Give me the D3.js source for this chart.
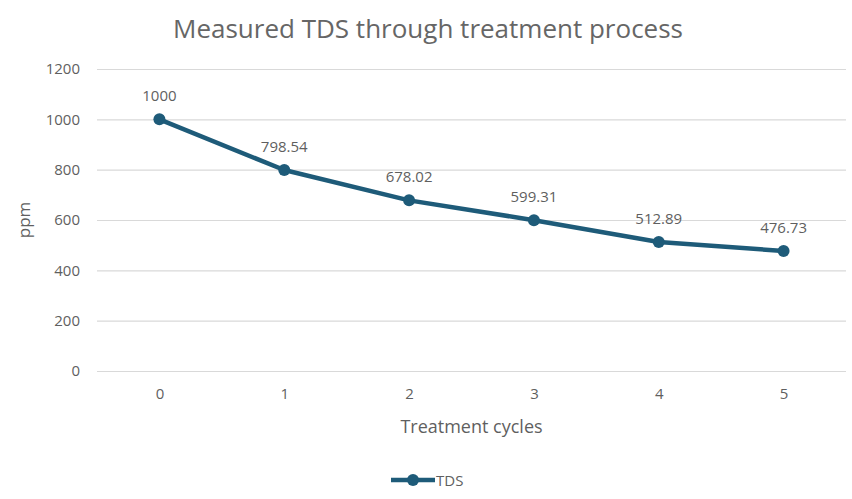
<!DOCTYPE html>
<html>
<head>
<meta charset="utf-8">
<script src="https://cdn.jsdelivr.net/npm/d3@7"></script>
<style>
  body { margin: 0; background: #fff; }
  #figure { width: 852px; height: 499px; }
  text { font-family: "Open Sans", "Noto Sans", sans-serif; }
</style>
</head>
<body>
<div id="figure"></div>
<script>
const cycles = [0, 1, 2, 3, 4, 5];
const tds = [1000, 798.54, 678.02, 599.31, 512.89, 476.73];
const yTicks = [0, 200, 400, 600, 800, 1000, 1200];

document.addEventListener("DOMContentLoaded", () => {
  const W = 852, H = 499;
  const margin = { top: 69, bottom: 128, left: 97, right: 6 },
        width = W - margin.left - margin.right,
        height = H - margin.top - margin.bottom;
  const lineColor = "#1e5b79";
  const textColor = "#5f5f5f";

  const svg = d3.select("#figure").append("svg")
      .attr("width", W).attr("height", H);

  svg.append("text")
     .attr("x", 428).attr("y", 38)
     .attr("text-anchor", "middle")
     .attr("font-size", 26)
     .attr("fill", "#666")
     .text("Measured TDS through treatment process");

  const g = svg.append("g")
      .attr("transform", "translate(" + margin.left + "," + margin.top + ")");

  const x = d3.scalePoint().domain(cycles).range([0, width]).padding(0.5);
  const y = d3.scaleLinear().domain([0, 1200]).range([height, 0]);

  // gridlines
  g.append("g")
   .call(d3.axisLeft(y).tickValues(yTicks).tickSize(-width).tickFormat(""))
   .call(s => s.select(".domain").remove())
   .call(s => s.selectAll("line").attr("stroke", "#d9d9d9").attr("stroke-width", 1.2));

  // y labels
  g.append("g")
   .call(d3.axisLeft(y).tickValues(yTicks).tickSize(0).tickPadding(17).tickFormat(d3.format("d")))
   .call(s => s.select(".domain").remove())
   .call(s => s.selectAll("text").attr("font-size", 15).attr("fill", textColor)
       .style("font-family", "'Open Sans', sans-serif"));

  // x labels
  g.append("g")
   .attr("transform", "translate(0," + height + ")")
   .call(d3.axisBottom(x).tickSize(0).tickPadding(17))
   .call(s => s.select(".domain").remove())
   .call(s => s.selectAll("text").attr("font-size", 15).attr("fill", textColor)
       .style("font-family", "'Open Sans', sans-serif"));

  svg.append("text")
     .attr("x", margin.left + width / 2).attr("y", 433)
     .attr("text-anchor", "middle")
     .attr("font-size", 18).attr("fill", textColor)
     .text("Treatment cycles");

  svg.append("text")
     .attr("transform", "translate(30," + (margin.top + height / 2) + ") rotate(-90)")
     .attr("text-anchor", "middle")
     .attr("font-size", 17).attr("fill", textColor)
     .text("ppm");

  const line = d3.line()
      .x((d, i) => x(cycles[i]))
      .y(d => y(d));

  g.append("path")
   .datum(tds)
   .attr("d", line)
   .attr("fill", "none")
   .attr("stroke", lineColor)
   .attr("stroke-width", 4.5)
   .attr("stroke-linejoin", "round")
   .attr("stroke-linecap", "round");

  g.selectAll("circle.pt")
   .data(tds).enter().append("circle")
   .attr("class", "pt")
   .attr("cx", (d, i) => x(cycles[i]))
   .attr("cy", d => y(d))
   .attr("r", 6)
   .attr("fill", lineColor);

  g.selectAll("text.lbl")
   .data(tds).enter().append("text")
   .attr("class", "lbl")
   .attr("x", (d, i) => x(cycles[i]))
   .attr("y", d => y(d) - 18)
   .attr("text-anchor", "middle")
   .attr("font-size", 15).attr("fill", textColor)
   .text(d => d);

  // legend
  const lg = svg.append("g").attr("transform", "translate(0,480)");
  lg.append("line")
    .attr("x1", 391).attr("x2", 435).attr("y1", 0).attr("y2", 0)
    .attr("stroke", lineColor).attr("stroke-width", 4.5);
  lg.append("circle").attr("cx", 413).attr("cy", 0).attr("r", 6).attr("fill", lineColor);
  lg.append("text")
    .attr("x", 436).attr("y", 6)
    .attr("font-size", 15).attr("fill", textColor)
    .text("TDS");
});
</script>
</body>
</html>
